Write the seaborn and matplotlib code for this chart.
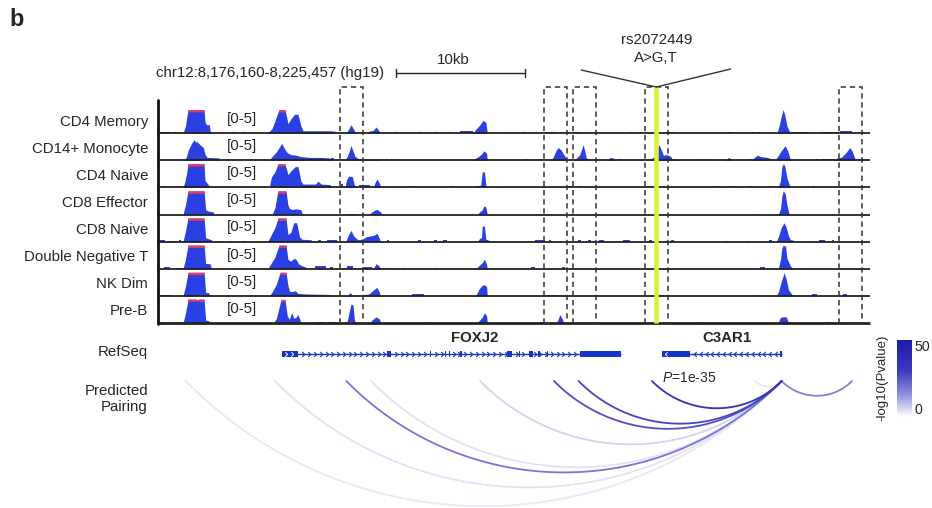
import numpy as np
import pandas as pd
import matplotlib
matplotlib.use("Agg")
import matplotlib.pyplot as plt
import seaborn as sns
from matplotlib.colors import LinearSegmentedColormap, Normalize
from matplotlib.cm import ScalarMappable
from matplotlib.patches import Rectangle
from matplotlib.lines import Line2D
from matplotlib.path import Path

# ---------------------------------------------------------------- data
PANEL = "b"
REGION_LABEL = "chr12:8,176,160-8,225,457 (hg19)"
REGION_START = 8176160
REGION_END = 8225457
SCALE_BAR_KB = (16.48, 25.41)          # kb from region start
SCALE_BAR_LABEL = "10kb"
SNP_ID = "rs2072449"
SNP_ALLELES = "A>G,T"
SNP_KB = 34.50
HIGHLIGHT_KB = [(12.60, 14.17), (26.73, 28.30), (28.73, 30.33),
                (33.75, 35.31), (47.15, 48.75)]

CELL_TYPES = ["CD4 Memory", "CD14+ Monocyte", "CD4 Naive", "CD8 Effector",
              "CD8 Naive", "Double Negative T", "NK Dim", "Pre-B"]
DATA_RANGE_LABEL = "[0-5]"
DATA_MAX = 5.0

# coverage profiles: segments of (kb from region start, signal)
CD4_MEMORY = [
    [(0.14, 0.25), (0.85, 0.25)], [(1.05, 0.2), (1.55, 0.2)],
    [(1.73, 0), (1.9, 1.5), (2.08, 6), (3.19, 6), (3.25, 2.5), (3.35, 1.8), (3.55, 1.8), (3.62, 0.3), (3.7, 0)],
    [(4.45, 0.2), (4.6, 0.2)], [(5.15, 0.2), (5.3, 0.2)], [(5.85, 0.2), (6.0, 0.2)],
    [(7.6, 0), (7.9, 1.0), (8.2, 3.5), (8.38, 6), (8.79, 6), (8.9, 3.5), (9.0, 2.0), (9.2, 3.0), (9.45, 4.0),
     (9.69, 4.0), (9.9, 1.5), (10.04, 0.5), (11.9, 0.5), (12.26, 0.4), (12.3, 0)],
    [(13.0, 0), (13.2, 0.8), (13.36, 1.8), (13.55, 0.8), (13.7, 0)],
    [(14.5, 0), (14.6, 0.4), (14.9, 0.6), (15.1, 1.3), (15.3, 0.5), (15.4, 0)],
    [(16.4, 0.25), (16.6, 0.25)], [(18.0, 0.25), (18.2, 0.25)], [(19.1, 0.25), (19.3, 0.25)],
    [(20.0, 0.25), (20.2, 0.25)], [(20.9, 0.35), (21.8, 0.35)],
    [(21.8, 0), (22.0, 0.8), (22.3, 1.8), (22.5, 2.7), (22.7, 2.3), (22.8, 0)],
    [(25.25, 0.25), (25.45, 0.25)], [(26.8, 0.25), (27.5, 0.25)], [(28.7, 0.25), (29.2, 0.25)],
    [(32.7, 0.25), (32.9, 0.25)], [(33.4, 0.25), (33.6, 0.25)], [(35.2, 0.3), (35.7, 0.3)],
    [(39.4, 0.3), (39.8, 0.3)], [(41.15, 0.25), (41.3, 0.25)], [(41.5, 0.25), (41.65, 0.25)],
    [(42.86, 0), (43.0, 1.5), (43.15, 3.5), (43.28, 5.0), (43.4, 3.8), (43.55, 1.5), (43.7, 0.5), (43.76, 0)],
    [(43.8, 0.25), (45.0, 0.25)], [(45.9, 0.25), (47.0, 0.25)], [(47.2, 0.35), (48.05, 0.35)],
    [(48.7, 0.2), (48.85, 0.2)],
]
CD14_MONOCYTE = [
    [(1.8, 0), (1.95, 0.6), (2.1, 2.2), (2.33, 3.6), (2.51, 4.4), (2.6, 3.8), (2.68, 4.0), (2.91, 3.3),
     (3.14, 2.7), (3.25, 1.3), (3.4, 0.6), (4.2, 0.5), (4.3, 0)],
    [(7.7, 0), (7.9, 0.8), (8.2, 1.8), (8.45, 3.0), (8.56, 3.6), (8.75, 2.5), (8.95, 1.6), (9.2, 1.2),
     (9.5, 1.1), (9.9, 0.8), (10.5, 0.6), (11.2, 0.6), (11.9, 0.5), (12.0, 0)],
    [(12.0, 0.4), (12.2, 0.4)],
    [(12.95, 0), (13.1, 0.8), (13.25, 2.0), (13.36, 3.1), (13.5, 2.0), (13.65, 0.8), (13.9, 0.3),
     (15.3, 0.25), (15.4, 0)],
    [(15.7, 0.2), (15.9, 0.2)], [(16.1, 0.2), (16.3, 0.2)],
    [(21.7, 0), (21.9, 0.3), (22.2, 0.8), (22.45, 1.5), (22.57, 2.0), (22.75, 1.5), (22.8, 0)],
    [(25.5, 0.2), (25.65, 0.2)], [(26.4, 0.2), (26.55, 0.2)],
    [(27.2, 0), (27.35, 0.6), (27.55, 2.0), (27.7, 2.7), (27.9, 2.2), (28.1, 1.2), (28.3, 0.3), (28.35, 0)],
    [(28.8, 0), (28.95, 0.4), (29.2, 1.2), (29.35, 2.5), (29.43, 3.3), (29.55, 2.0), (29.65, 0.5),
     (29.8, 0.3), (29.9, 0)],
    [(31.1, 0), (31.3, 0.6), (31.6, 0.4), (31.7, 0)], [(31.9, 0.2), (32.2, 0.2)],
    [(33.9, 0), (34.1, 0.3), (34.4, 0.8), (34.6, 2.8), (34.69, 3.3), (34.85, 2.2), (35.0, 1.0), (35.1, 1.2),
     (35.3, 1.1), (35.5, 0.8), (35.6, 0.3), (36.0, 0.2), (36.1, 0)],
    [(37.7, 0.2), (37.85, 0.2)],
    [(39.2, 0), (39.4, 0.3), (39.5, 0.6), (39.7, 0.3), (39.8, 0)],
    [(41.0, 0.2), (41.1, 0.2)],
    [(41.1, 0), (41.3, 0.6), (41.5, 1.1), (41.7, 0.8), (42.0, 0.7), (42.3, 0.5), (42.5, 0.2), (42.6, 0)],
    [(42.7, 0), (42.9, 0.8), (43.15, 2.0), (43.42, 3.1), (43.6, 2.0), (43.76, 0.4), (43.9, 0)],
    [(45.55, 0.2), (45.7, 0.2)], [(45.9, 0.35), (46.9, 0.35)],
    [(46.9, 0), (47.0, 0.5), (47.3, 0.6), (47.6, 1.5), (47.9, 2.7), (48.05, 2.0), (48.2, 0.8), (48.3, 0)],
]
CD4_NAIVE = [
    [(0.3, 0.2), (0.5, 0.2)], [(0.9, 0.2), (1.0, 0.2)], [(1.3, 0.2), (1.5, 0.2)],
    [(1.73, 0), (1.85, 1.1), (2.0, 3.3), (2.08, 6), (3.19, 6), (3.25, 1.5), (3.45, 0.7), (3.6, 0)],
    [(7.7, 0), (7.85, 2.2), (8.1, 3.3), (8.31, 6), (8.79, 6), (9.0, 2.7), (9.2, 3.5), (9.5, 4.4), (9.69, 4.4),
     (9.9, 1.3), (10.04, 0.7), (10.9, 0.7), (11.08, 1.3), (11.3, 0.7), (11.9, 0.6), (12.0, 0)],
    [(12.65, 0.7), (12.8, 0.7)],
    [(12.95, 0), (13.05, 1.6), (13.2, 2.4), (13.45, 2.3), (13.6, 0.5), (13.7, 0)],
    [(13.9, 0.4), (14.7, 0.4)],
    [(14.9, 0), (15.0, 0.8), (15.15, 1.8), (15.35, 0.8), (15.4, 0)],
    [(17.4, 0.25), (17.55, 0.25)], [(20.2, 0.3), (20.45, 0.3)],
    [(21.9, 0), (22.1, 0.3), (22.35, 0.5), (22.45, 3.3), (22.6, 3.3), (22.7, 0.4), (22.8, 0)],
    [(28.4, 0.25), (28.6, 0.25)], [(29.1, 0.25), (29.35, 0.25)],
    [(38.7, 0.25), (38.85, 0.25)], [(39.5, 0.25), (39.65, 0.25)], [(40.95, 0.25), (41.1, 0.25)],
    [(42.45, 0.25), (42.6, 0.25)],
    [(42.95, 0), (43.1, 1.5), (43.2, 4.5), (43.3, 5.5), (43.4, 4.5), (43.55, 2.0), (43.7, 0.6), (43.8, 0)],
    [(45.25, 0), (45.35, 0.5), (45.5, 0)],
]
CD8_EFFECTOR = [
    [(1.73, 0), (1.9, 2.0), (2.08, 6), (3.19, 6), (3.3, 1.0), (3.5, 0.7), (3.8, 0.6), (3.9, 0)],
    [(7.9, 0), (8.1, 1.5), (8.3, 6), (8.86, 6), (9.0, 2.0), (9.1, 1.3), (9.3, 1.1), (9.6, 1.2), (9.9, 1.0), (10.0, 0)],
    [(13.3, 0.2), (13.6, 0.2)],
    [(14.6, 0), (14.75, 0.4), (15.0, 0.9), (15.15, 1.1), (15.4, 0.6), (15.5, 0)],
    [(22.1, 0), (22.25, 0.5), (22.45, 1.0), (22.55, 1.8), (22.7, 1.6), (22.8, 0)],
    [(41.45, 0.2), (41.6, 0.2)],
    [(42.95, 0), (43.1, 1.2), (43.2, 4.0), (43.3, 5.5), (43.42, 4.5), (43.55, 2.0), (43.7, 0)],
]
CD8_NAIVE = [
    [(0.1, 0.25), (0.5, 0.25)], [(0.7, 0.2), (1.2, 0.2)], [(1.45, 0.35), (1.6, 0.35)],
    [(1.73, 0), (1.9, 2.2), (2.08, 6), (3.19, 6), (3.3, 0.8), (3.5, 0.6), (3.7, 0.4), (3.8, 0)],
    [(4.3, 0.2), (4.5, 0.2)], [(5.0, 0.2), (5.2, 0.2)], [(5.8, 0.2), (6.1, 0.2)],
    [(7.6, 0), (7.8, 1.2), (8.1, 3.0), (8.31, 6), (8.86, 6), (9.0, 1.5), (9.2, 2.0), (9.4, 4.0), (9.6, 4.0),
     (9.8, 1.0), (9.97, 0.5), (10.6, 0.4), (10.7, 0)],
    [(11.1, 0.3), (11.3, 0.3)], [(11.7, 0.35), (12.4, 0.35)],
    [(13.0, 0), (13.15, 1.2), (13.36, 2.4), (13.55, 1.2), (13.75, 0.6), (13.9, 0.4), (14.2, 0.6), (14.4, 1.0),
     (14.7, 1.2), (15.0, 1.4), (15.15, 1.8), (15.35, 0.5), (15.4, 0)],
    [(15.85, 0.25), (16.0, 0.25)], [(18.0, 0.25), (18.2, 0.25)], [(19.1, 0.25), (19.3, 0.25)],
    [(19.7, 0.25), (20.0, 0.25)],
    [(22.1, 0), (22.25, 0.6), (22.4, 0.9), (22.45, 3.3), (22.6, 3.3), (22.7, 0.5), (22.9, 0.3), (23.0, 0)],
    [(26.1, 0.3), (26.8, 0.3)], [(27.05, 0.25), (27.2, 0.25)], [(29.1, 0.25), (29.3, 0.25)],
    [(29.8, 0.25), (30.0, 0.25)], [(30.5, 0.3), (30.9, 0.3)], [(32.2, 0.3), (32.7, 0.3)],
    [(34.0, 0.25), (34.2, 0.25)], [(35.55, 0.25), (35.7, 0.25)],
    [(39.35, 0.2), (39.5, 0.2)], [(40.8, 0.2), (40.95, 0.2)], [(42.3, 0.3), (42.5, 0.3)],
    [(42.8, 0), (42.95, 1.0), (43.15, 3.0), (43.35, 4.0), (43.5, 3.0), (43.65, 1.2), (43.8, 0.4), (44.0, 0.3), (44.1, 0)],
    [(45.3, 0.2), (45.45, 0.2)], [(45.8, 0.25), (46.2, 0.25)], [(46.65, 0.25), (46.8, 0.25)],
]
DOUBLE_NEG_T = [
    [(0.45, 0.4), (0.85, 0.4)], [(1.3, 0.2), (1.7, 0.2)],
    [(1.73, 0), (1.9, 2.0), (2.08, 6), (3.19, 6), (3.3, 1.1), (3.6, 1.1), (3.7, 0)],
    [(7.6, 0), (7.8, 1.0), (8.1, 2.5), (8.38, 6), (8.86, 6), (9.0, 2.0), (9.2, 1.6), (9.4, 2.2), (9.55, 2.0),
     (9.75, 1.0), (10.0, 0.6), (10.2, 0.4), (10.3, 0)],
    [(10.9, 0.6), (11.6, 0.6)], [(11.9, 0.3), (12.1, 0.3)],
    [(13.1, 0.6), (13.5, 0.6)], [(14.2, 0.4), (14.8, 0.4)],
    [(14.9, 0), (15.1, 1.1), (15.3, 0.6), (15.4, 0)],
    [(16.95, 0.25), (17.1, 0.25)], [(19.15, 0.25), (19.3, 0.25)], [(20.55, 0.25), (20.7, 0.25)],
    [(22.0, 0), (22.2, 0.6), (22.45, 1.3), (22.6, 2.0), (22.75, 1.0), (22.8, 0)],
    [(25.8, 0.3), (26.1, 0.3)], [(28.0, 0.3), (28.2, 0.3)], [(35.25, 0.2), (35.4, 0.2)],
    [(41.7, 0.3), (42.0, 0.3)],
    [(42.95, 0), (43.1, 2.0), (43.2, 4.5), (43.3, 5.5), (43.45, 4.8), (43.55, 2.2), (43.8, 0.5), (44.0, 0)],
]
NK_DIM = [
    [(0.1, 0.2), (1.0, 0.2)],
    [(1.73, 0), (1.9, 2.0), (2.08, 6), (3.19, 6), (3.3, 0.7), (3.5, 0.7), (3.6, 0)],
    [(7.7, 0), (7.9, 0.8), (8.2, 2.5), (8.45, 6), (8.86, 6), (9.0, 2.2), (9.1, 1.0), (9.3, 0.9), (9.5, 1.1),
     (9.7, 0.5), (10.3, 0.4), (11.9, 0.3), (12.0, 0)],
    [(13.1, 0), (13.3, 0.7), (13.5, 0)],
    [(14.1, 0), (14.3, 0.3), (14.6, 0.4), (14.9, 1.2), (15.15, 1.8), (15.3, 1.0), (15.4, 0)],
    [(17.6, 0.3), (18.4, 0.3)], [(19.85, 0.25), (20.0, 0.25)], [(20.55, 0.25), (20.7, 0.25)],
    [(22.0, 0), (22.2, 1.3), (22.4, 2.1), (22.55, 2.4), (22.75, 2.0), (22.8, 0)],
    [(26.9, 0.2), (27.7, 0.2)], [(34.55, 0.25), (35.0, 0.25)],
    [(41.25, 0.2), (41.4, 0.2)],
    [(42.8, 0), (42.95, 0.8), (43.15, 3.0), (43.35, 4.9), (43.5, 3.5), (43.65, 1.3), (43.85, 0.5), (43.95, 0)],
    [(45.3, 0.35), (45.6, 0.35)], [(47.4, 0.3), (47.7, 0.3)],
]
PRE_B = [
    [(0.1, 0.2), (0.3, 0.2)], [(1.15, 0.2), (1.3, 0.2)],
    [(1.73, 0), (1.9, 2.0), (2.08, 6), (2.7, 6), (2.75, 4.9), (2.85, 6), (3.19, 6), (3.3, 0.6), (3.5, 0.5), (3.6, 0)],
    [(8.0, 0), (8.2, 1.0), (8.4, 3.5), (8.52, 6), (8.79, 6), (8.95, 1.5), (9.1, 0.8), (9.25, 2.2), (9.4, 1.0),
     (9.55, 1.2), (9.69, 1.8), (9.85, 0.5), (9.9, 0)],
    [(11.1, 0.3), (11.4, 0.3)], [(11.8, 0.3), (12.4, 0.3)],
    [(13.0, 0), (13.1, 0.4), (13.25, 2.5), (13.36, 4.0), (13.5, 3.8), (13.6, 0.6), (13.7, 0)],
    [(14.7, 0), (14.8, 0.6), (15.1, 1.3), (15.35, 0.8), (15.4, 0)],
    [(18.55, 0.25), (18.7, 0.25)],
    [(22.1, 0), (22.25, 0.6), (22.45, 1.2), (22.6, 2.2), (22.75, 1.5), (22.8, 0)],
    [(26.45, 0.2), (26.65, 0.2)],
    [(27.6, 0), (27.7, 0.8), (27.83, 1.8), (28.0, 0.8), (28.1, 0)],
    [(37.5, 0.3), (37.7, 0.3)],
    [(42.95, 0), (43.05, 1.0), (43.2, 1.3), (43.5, 1.3), (43.6, 0.5), (43.7, 0)],
    [(46.2, 0.3), (46.5, 0.3)],
]
TRACKS = dict(zip(CELL_TYPES, [CD4_MEMORY, CD14_MONOCYTE, CD4_NAIVE, CD8_EFFECTOR,
                               CD8_NAIVE, DOUBLE_NEG_T, NK_DIM, PRE_B]))

# RefSeq genes (kb from region start)
GENE_NAMES = ["FOXJ2", "C3AR1"]
GENE_STRAND = ["+", "-"]
GENE_SPAN = [(8.57, 32.06), (34.88, 43.18)]
GENE_LABEL_KB = [21.95, 39.40]
GENE_EXONS = [
    [(8.57, 9.69), (15.85, 16.15), (18.80, 18.88), (19.85, 19.93), (20.12, 20.22), (20.94, 21.02),
     (24.14, 24.49), (24.98, 25.06), (25.69, 25.94), (26.34, 26.42), (26.94, 27.02), (29.22, 32.06)],
    [(34.88, 35.31), (43.10, 43.18)],
]
GENE_THIN = [[], [(35.31, 36.84)]]

# predicted pairing arcs
PAIR_ANCHOR_KB = 43.18
PAIR_PARTNER_KB = [1.92, 8.10, 13.04, 14.75, 22.30, 27.42, 29.12, 34.20, 41.34, 48.05]
PAIR_LOG10P = [3, 4, 19, 4, 6, 26, 28, 35, 3, 17]
P_LABEL = r"$\mathit{P}$=1e-35"
CBAR_RANGE = (0, 50)
CBAR_LABEL = "-log10(Pvalue)"

# ---------------------------------------------------------------- style
sns.set_theme(style="white")
plt.rcParams['font.family'] = ['Liberation Sans', 'DejaVu Sans']
plt.rcParams['mathtext.fontset'] = 'custom'
plt.rcParams['mathtext.it'] = 'Liberation Sans:italic'
plt.rcParams['mathtext.rm'] = 'Liberation Sans'

BLUE = "#2b40e2"
RED = "#e6395c"
GENE_BLUE = "#1634c8"
HILITE = "#dcef3a"
DARK = "#222222"
FS = 10.8
cmap = LinearSegmentedColormap.from_list(
    "pair", [(0, "#ffffff"), (0.3, "#8c8ce0"), (0.6, "#3a3ac0"), (1.0, "#1c1ca8")], N=256)

W, H = 932, 508
fig = plt.figure(figsize=(W / 100, H / 100), dpi=100)
fig.patch.set_facecolor("white")


def box(x0, y0, x1, y1):
    return [x0 / W, 1 - y1 / H, (x1 - x0) / W, (y1 - y0) / H]


def fx(px):
    return px / W


def fy(py):
    return 1 - py / H


SPAN_KB = (REGION_END - REGION_START) / 1000.0
X0, X1 = 158, 870
TOP, BOTTOM = 106, 323
n = len(CELL_TYPES)
th = (BOTTOM - TOP) / n

# ---------------------------------------------------------------- coverage tracks
for i, name in enumerate(CELL_TYPES):
    top = TOP + i * th
    bot = top + th
    ax = fig.add_axes(box(X0, top, X1, bot))
    ax.set_xlim(0, SPAN_KB)
    ax.set_ylim(0, 5.75)
    ax.axis("off")
    for seg in TRACKS[name]:
        x = np.array([p[0] for p in seg])
        y = np.array([p[1] for p in seg])
        ax.fill_between(x, 0, np.minimum(y, DATA_MAX), color=BLUE, lw=0)
        yr = np.minimum(y - 0.5, DATA_MAX)
        if np.any(yr > DATA_MAX - 0.5):
            ax.fill_between(x, DATA_MAX - 0.5, yr, where=yr > DATA_MAX - 0.5,
                            interpolate=True, color=RED, lw=0)
    ax.plot([0, SPAN_KB], [0, 0], color=DARK, lw=2.0 if i == n - 1 else 1.3,
            clip_on=False, solid_capstyle="butt")
    fig.text(fx(148), fy((top + bot) / 2 + 2), name, ha="right", va="center", fontsize=FS)
    fig.text(fx(227), fy(top + 13), DATA_RANGE_LABEL, ha="left", va="center", fontsize=FS)

fig.add_artist(Line2D([fx(158), fx(158)], [fy(100), fy(324)], color="#111111", lw=2.0))

# ---------------------------------------------------------------- highlights
hax = fig.add_axes(box(X0, 87, X1, BOTTOM), zorder=5)
hax.set_xlim(0, SPAN_KB)
hax.set_ylim(0, 1)
hax.axis("off")
hax.patch.set_visible(False)
for a, b in HIGHLIGHT_KB:
    hax.add_patch(Rectangle((a, 0), b - a, 1, fill=False, ec="#333333", lw=1.1,
                            ls=(0, (3.5, 2.5)), clip_on=False))
hax.plot([SNP_KB, SNP_KB], [0, 1], color=HILITE, lw=3.3, solid_capstyle="butt", clip_on=False)

# ---------------------------------------------------------------- header
top_ax = fig.add_axes(box(X0, 0, X1, 87), zorder=6)
top_ax.set_xlim(0, SPAN_KB)
top_ax.set_ylim(87, 0)
top_ax.axis("off")
top_ax.patch.set_visible(False)
sa, sb = SCALE_BAR_KB
top_ax.plot([sa, sb], [72.7, 72.7], color=DARK, lw=1.0)
top_ax.plot([sa, sa], [68.7, 76.7], color=DARK, lw=1.0)
top_ax.plot([sb, sb], [68.7, 76.7], color=DARK, lw=1.0)
top_ax.text((sa + sb) / 2 - 0.5, 59.5, SCALE_BAR_LABEL, ha="center", va="center", fontsize=FS)
top_ax.plot([SNP_KB - 5.2, SNP_KB, SNP_KB + 5.15], [70, 87, 69], color="#333333", lw=1.0, clip_on=False)
top_ax.text(SNP_KB, 40.5, SNP_ID, ha="center", va="center", fontsize=FS)
top_ax.text(SNP_KB, 58, SNP_ALLELES, ha="center", va="center", fontsize=FS)
fig.text(fx(156), fy(73), REGION_LABEL, ha="left", va="center", fontsize=FS)
fig.text(fx(9), fy(19), PANEL, ha="left", va="center", fontsize=17, fontweight="bold")

# ---------------------------------------------------------------- RefSeq
gax = fig.add_axes(box(X0, 328, X1, 370))
gax.set_xlim(0, SPAN_KB)
gax.set_ylim(42, 0)
gax.axis("off")
GY = 26
chev_r = Path([(-0.45, 0.9), (0.45, 0.0), (-0.45, -0.9)], [Path.MOVETO, Path.LINETO, Path.LINETO])
chev_l = Path([(0.45, 0.9), (-0.45, 0.0), (0.45, -0.9)], [Path.MOVETO, Path.LINETO, Path.LINETO])
for gname, strand, span, lab, exons, thin in zip(GENE_NAMES, GENE_STRAND, GENE_SPAN,
                                                GENE_LABEL_KB, GENE_EXONS, GENE_THIN):
    gax.plot(span, [GY, GY], color=GENE_BLUE, lw=1.0, solid_capstyle="butt")
    for a, b in exons:
        gax.add_patch(Rectangle((a, GY - 3.4), b - a, 6.8, color=GENE_BLUE, lw=0))
    for a, b in thin:
        gax.add_patch(Rectangle((a, GY - 2.7), b - a, 5.4, color=GENE_BLUE, lw=0))
    blocks = exons + thin
    xs = np.arange(span[0] + 0.3, span[1] - 0.1, 0.4)
    inside = np.array([any(a - 0.05 <= xv <= b + 0.05 for a, b in blocks) for xv in xs])
    wide_in = np.array([any(a + 0.1 <= xv <= b - 0.1 and (b - a) > 0.25 for a, b in blocks) for xv in xs])
    marker = chev_r if strand == "+" else chev_l
    gax.plot(xs[~inside], np.full((~inside).sum(), GY), ls="none", marker=marker, ms=3.6,
             mec=GENE_BLUE, mfc="none", mew=0.8)
    big = [(a, b) for a, b in blocks if b - a < 1.2]
    sel = wide_in & np.array([any(a <= xv <= b for a, b in big) for xv in xs])
    if sel.any():
        gax.plot(xs[sel], np.full(sel.sum(), GY), ls="none", marker=marker, ms=3.2,
                 mec="white", mfc="none", mew=0.7)
    gax.text(lab, 10, gname, ha="center", va="center", fontsize=FS, fontweight="bold")

fig.text(fx(148), fy(352), "RefSeq", ha="right", va="center", fontsize=FS)

# ---------------------------------------------------------------- pairing arcs
aax = fig.add_axes(box(X0, 381, X1, 508))
depth_lim = (508 - 381) / (X1 - X0) * SPAN_KB
aax.set_xlim(0, SPAN_KB)
aax.set_ylim(-depth_lim, 0)
aax.axis("off")
rows = []
for k, (p, lp) in enumerate(zip(PAIR_PARTNER_KB, PAIR_LOG10P)):
    c = abs(PAIR_ANCHOR_KB - p)
    s = 0.21 * c
    R = (c * c / 4 + s * s) / (2 * s)
    alpha = np.arcsin((c / 2) / R)
    th_ = np.linspace(-alpha, alpha, 120)
    xm = (PAIR_ANCHOR_KB + p) / 2
    for t in th_:
        rows.append({"arc": k, "kb": xm + R * np.sin(t), "y": (R - s) - R * np.cos(t), "logp": lp})
arcs = pd.DataFrame(rows)
arcs = arcs.sort_values("logp", kind="stable")
sns.lineplot(data=arcs, x="kb", y="y", units="arc", estimator=None, sort=False,
             hue="logp", palette=cmap, hue_norm=CBAR_RANGE, legend=False, lw=1.3, ax=aax)
for ln in aax.lines:
    ln.set_clip_on(False)
aax.axis("off")
fig.text(fx(662), fy(378), P_LABEL, ha="left", va="center", fontsize=10)
fig.text(fx(148), fy(399), "Predicted\nPairing", ha="right", va="center", fontsize=FS,
         linespacing=1.15)

# ---------------------------------------------------------------- colorbar
cax = fig.add_axes(box(897, 340, 912, 417))
sm = ScalarMappable(norm=Normalize(*CBAR_RANGE), cmap=cmap)
cb = fig.colorbar(sm, cax=cax)
cb.outline.set_visible(False)
cb.set_ticks(list(CBAR_RANGE))
cax.set_yticklabels([str(v) for v in CBAR_RANGE])
cax.tick_params(length=0, labelsize=10.2, pad=1.5)
labs = cax.get_yticklabels()
labs[0].set_va("bottom")
labs[1].set_va("top")
fig.text(fx(882), fy(378), CBAR_LABEL, rotation=90, ha="center", va="center", fontsize=9.5)

fig.savefig("out.png", dpi=100, facecolor="white")
